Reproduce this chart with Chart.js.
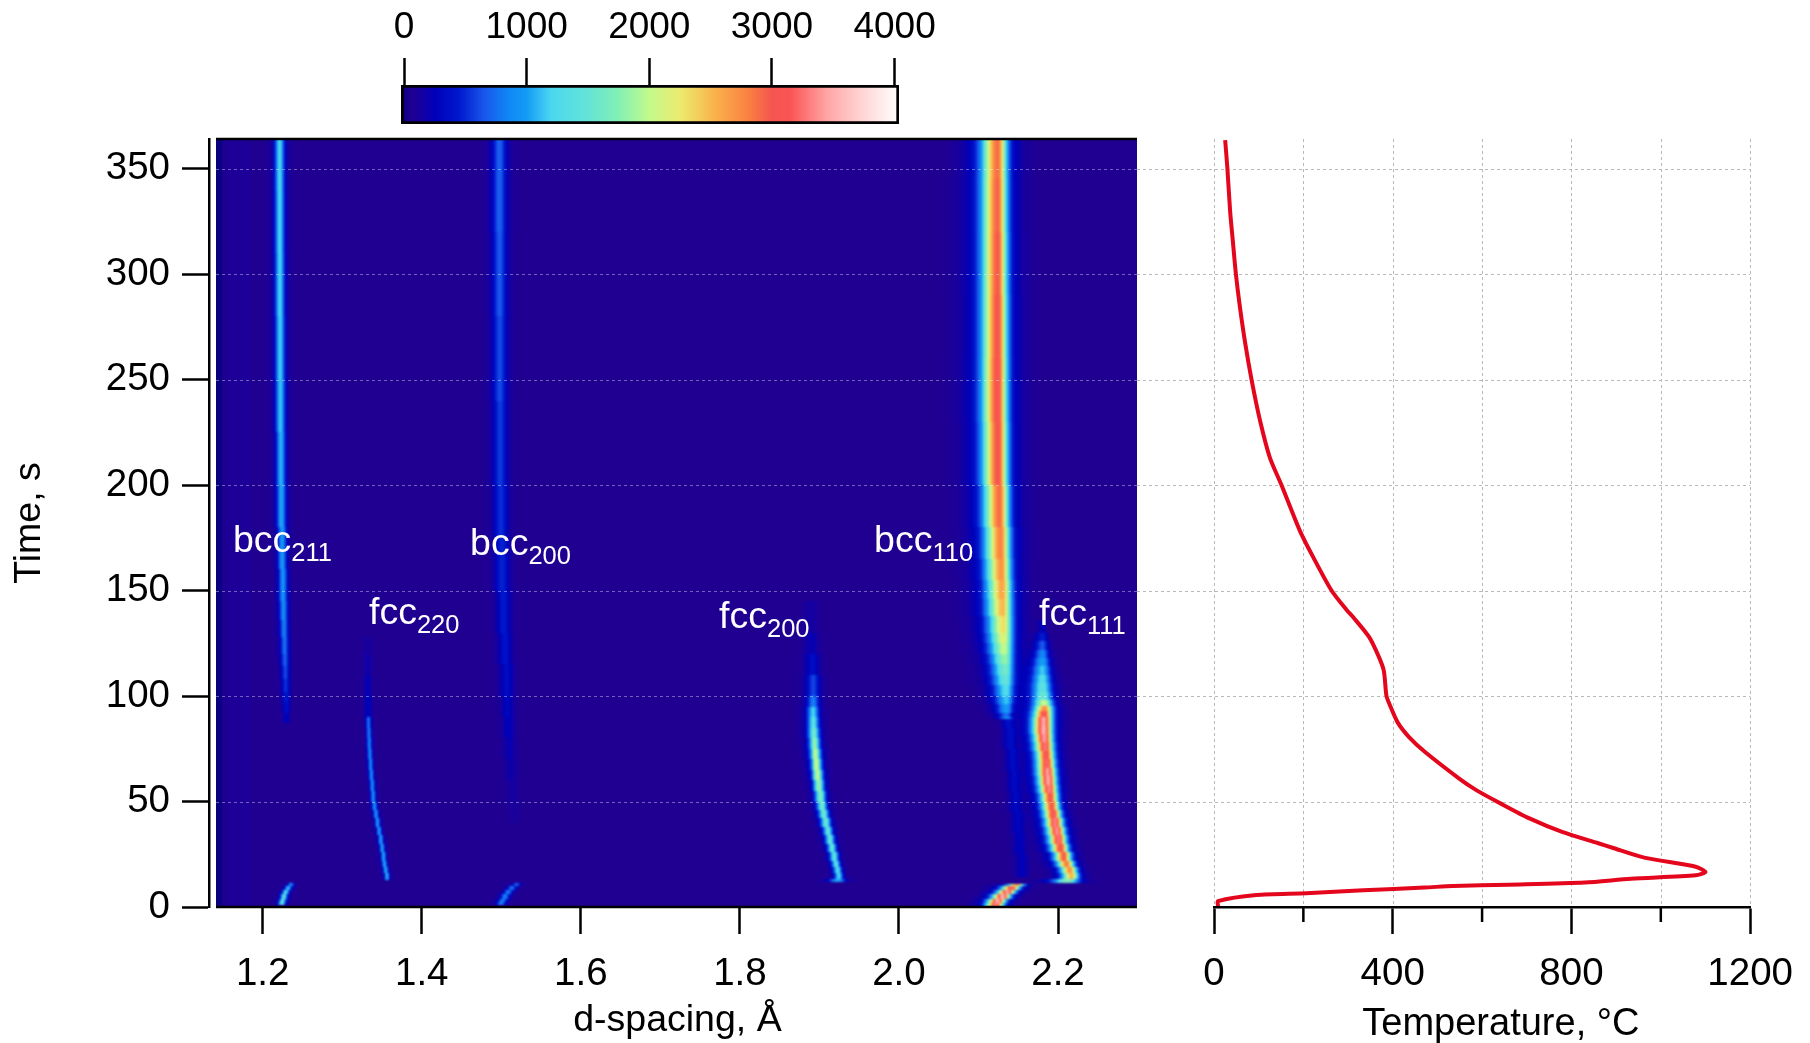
<!DOCTYPE html>
<html>
<head>
<meta charset="utf-8">
<title>d-spacing and temperature over time</title>
<script src="https://cdn.jsdelivr.net/npm/chart.js@4"></script>
<style>
    html, body { margin: 0; padding: 0; background: #fff; }
    #page { position: relative; width: 1810px; height: 1043px; overflow: hidden; }
    canvas { position: absolute; }
</style>
</head>
<body>
<div id="page">
    <canvas id="heat-chart" style="left:0;top:0" width="1137" height="1043"></canvas>
    <canvas id="temperature-chart" style="left:1137px;top:0" width="673" height="1043"></canvas>
    <canvas id="colorbar-chart" style="left:0;top:0" width="1000" height="130"></canvas>
</div>
<script>
// tick labels
const dTicks = [1.2, 1.4, 1.6, 1.8, 2.0, 2.2];
const timeTicks = [0, 50, 100, 150, 200, 250, 300, 350];
const temperatureTicks = [0, 400, 800, 1200];
const temperatureMinorTicks = [200, 600, 1000];
const temperatureGrid = [0, 200, 400, 600, 800, 1000, 1200];
const colorTicks = [0, 1000, 2000, 3000, 4000];

// colour scale
const colorValues = [-25, 60, 110, 250, 450, 650, 850, 1000, 1200, 1500, 1750, 2000, 2250, 2550, 2800, 3000, 3150, 3450, 3750, 4036];
const colorStops = [
    [5, 0, 125], [32, 0, 145], [26, 0, 155], [0, 0, 185], [0, 25, 205],
    [25, 85, 235], [15, 135, 245], [20, 155, 245], [75, 215, 240], [100, 228, 215],
    [130, 240, 180], [195, 250, 140], [235, 235, 110], [250, 175, 75], [250, 130, 65],
    [245, 85, 80], [250, 85, 85], [255, 165, 165], [255, 215, 215], [255, 255, 255],
];

// temperature curve
const curveTime = [0.5, 2.8, 5.7, 6.5, 7.9, 9.2, 10, 10.6, 11.6, 13.4, 15, 16.6, 19.1, 23.4, 28.2, 30.2, 35.6, 42, 49, 55.4, 61, 73.7, 80.4, 87.5, 96, 100, 112, 119, 128, 137, 141, 150, 165.8, 178.4, 200, 213, 230.6, 250, 267, 284.4, 300, 316, 330, 350, 363.5];
const curveTemperature = [9, 9, 95, 206, 334, 471, 535, 659, 830, 933, 1078, 1100, 1078, 963, 890, 860, 779, 706, 642, 587, 548, 471, 437, 411, 393, 386, 380, 368, 347, 313, 296, 263, 222, 192, 151, 125, 103, 84, 70, 58, 49, 42, 36, 30, 25];

// map limits
const dMin = 1.1413;
const dMax = 2.2993;
const timeMax = 364;

// background columns of the map (intensity between the edges)
const backgroundEdges = [1.1413, 1.1485, 1.155, 1.185, 2.2993];
const backgroundLevels = [-10, 55, 95, 60];

// cross section of a peak: height against distance from centre, in half widths
const profileDistance = [0, 0.25, 0.5, 0.75, 1, 1.25, 1.5, 1.75, 2, 2.25, 2.5, 3, 3.5, 4, 5];
const profileHeight = [1, 0.96, 0.84, 0.68, 0.5, 0.35, 0.24, 0.16, 0.1, 0.07, 0.05, 0.025, 0.013, 0.006, 0];

// peak tracks: row start time, centre, peak intensity, half width
const bcc211Time = [87, 92, 97, 102, 108, 114, 120, 128, 136, 145, 160, 180, 200, 225, 250, 280, 310, 340, 364];
const bcc211D = [1.2293, 1.2291, 1.2288, 1.2284, 1.228, 1.2275, 1.227, 1.2263, 1.2257, 1.225, 1.224, 1.223, 1.2224, 1.2218, 1.2214, 1.2211, 1.2209, 1.2208, 1.2208];
const bcc211Peak = [220, 320, 400, 480, 560, 640, 720, 790, 850, 900, 950, 1010, 1060, 1110, 1150, 1190, 1200, 1210, 1210];
const bcc211Width = [0.0034, 0.0036, 0.0036, 0.0038, 0.0038, 0.004, 0.004, 0.004, 0.0042, 0.0042, 0.0042, 0.0044, 0.0044, 0.0046, 0.0046, 0.0046, 0.0046, 0.0046, 0.0046];

const bcc211LowTime = [0.8, 2.5, 4, 6, 8, 10, 11.4];
const bcc211LowD = [1.2235, 1.2245, 1.2262, 1.2285, 1.2315, 1.235, 1.239];
const bcc211LowPeak = [1500, 1450, 1400, 1300, 1100, 900, 0];
const bcc211LowWidth = [0.0032, 0.0032, 0.0032, 0.0032, 0.0032, 0.003, 0.003];

const fcc220Time = [13, 16, 19, 22, 26, 30, 34, 38, 42, 46, 50, 55, 60, 65, 70, 75, 80, 85, 90, 100, 110, 120, 128];
const fcc220D = [1.3563, 1.3547, 1.3532, 1.352, 1.3503, 1.3485, 1.3465, 1.3444, 1.3425, 1.3407, 1.3391, 1.338, 1.3368, 1.3358, 1.3349, 1.3342, 1.3337, 1.3332, 1.3328, 1.3324, 1.3322, 1.332, 1.332];
const fcc220Peak = [1050, 1050, 1030, 1020, 1000, 1000, 980, 970, 950, 950, 930, 920, 900, 880, 860, 840, 800, 760, 230, 180, 130, 80, 0];
const fcc220Width = [0.0024, 0.0024, 0.0024, 0.0024, 0.0024, 0.0024, 0.0024, 0.0024, 0.0024, 0.0024, 0.0024, 0.0024, 0.0024, 0.0024, 0.0024, 0.0024, 0.0024, 0.0024, 0.0038, 0.0038, 0.0038, 0.0038, 0.0038];

const bcc200Time = [40, 50, 60, 70, 80, 90, 100, 115, 130, 150, 175, 200, 240, 280, 320, 364];
const bcc200D = [1.517, 1.5145, 1.5125, 1.5108, 1.5095, 1.5082, 1.5072, 1.505, 1.5032, 1.5012, 1.4998, 1.499, 1.4985, 1.4982, 1.498, 1.498];
const bcc200Peak = [50, 80, 120, 160, 200, 240, 290, 340, 390, 430, 470, 510, 560, 610, 650, 650];
const bcc200Width = [0.006, 0.006, 0.006, 0.006, 0.0062, 0.0062, 0.0065, 0.0065, 0.0065, 0.0068, 0.0068, 0.0068, 0.007, 0.007, 0.007, 0.007];

const bcc200LowTime = [0.8, 2.5, 4, 6, 8, 10, 11.5];
const bcc200LowD = [1.5, 1.502, 1.505, 1.509, 1.5135, 1.5195, 1.5235];
const bcc200LowPeak = [800, 800, 800, 780, 740, 660, 0];
const bcc200LowWidth = [0.0042, 0.0042, 0.0042, 0.0042, 0.004, 0.004, 0.004];

const fcc200Time = [12, 13.5, 16, 19, 22, 26, 30, 34, 38, 42, 46, 50, 55, 60, 65, 70, 75, 80, 85, 90, 95, 100, 110, 120, 130, 145];
const fcc200D = [1.9235, 1.925, 1.9235, 1.9215, 1.9193, 1.9165, 1.914, 1.9115, 1.9088, 1.9062, 1.904, 1.902, 1.9, 1.8984, 1.8968, 1.8955, 1.8943, 1.8933, 1.8927, 1.8923, 1.8925, 1.8925, 1.8915, 1.8905, 1.89, 1.8895];
const fcc200Peak = [1000, 1200, 1300, 1350, 1400, 1450, 1450, 1450, 1500, 1550, 1600, 1650, 1800, 1950, 2000, 1950, 1800, 1600, 1400, 1200, 800, 550, 300, 170, 90, 0];
const fcc200Width = [0.0075, 0.0038, 0.0038, 0.0038, 0.004, 0.004, 0.0042, 0.0042, 0.0045, 0.0045, 0.0045, 0.0048, 0.0048, 0.005, 0.005, 0.0052, 0.0052, 0.0055, 0.0055, 0.0057, 0.006, 0.0065, 0.007, 0.007, 0.007, 0.007];

const bcc110Time = [89, 92, 96, 100, 105, 110, 115, 120, 125, 130, 138, 146, 155, 165, 180, 200, 230, 260, 290, 320, 345, 364];
const bcc110D = [2.1359, 2.1359, 2.1358, 2.1355, 2.135, 2.1345, 2.1338, 2.133, 2.1325, 2.132, 2.131, 2.1305, 2.1295, 2.1285, 2.127, 2.1255, 2.125, 2.125, 2.1248, 2.1246, 2.1246, 2.1246];
const bcc110Peak = [650, 900, 1050, 1200, 1400, 1550, 1750, 1950, 2100, 2250, 2450, 2550, 2650, 2750, 2850, 3000, 3050, 3000, 2950, 2900, 2850, 2850];
const bcc110Width = [0.0052, 0.006, 0.0068, 0.0073, 0.0078, 0.008, 0.0082, 0.0085, 0.0087, 0.0088, 0.009, 0.009, 0.009, 0.0091, 0.0091, 0.0092, 0.0092, 0.0092, 0.0092, 0.0092, 0.0092, 0.0092];

const bcc110HaloTime = [90, 364];
const bcc110HaloD = [2.15, 2.15];
const bcc110HaloPeak = [50, 50];
const bcc110HaloWidth = [0.018, 0.018];

const bcc110TailTime = [14, 25, 35, 45, 55, 65, 75, 85, 90];
const bcc110TailD = [2.155, 2.152, 2.15, 2.147, 2.145, 2.143, 2.14, 2.138, 2.137];
const bcc110TailPeak = [200, 220, 240, 250, 260, 270, 280, 290, 0];
const bcc110TailWidth = [0.0065, 0.0065, 0.0065, 0.0065, 0.0065, 0.0065, 0.0065, 0.0065, 0.0065];

const bcc110LowTime = [0, 2, 4, 6, 8, 10, 11.2];
const bcc110LowD = [2.1225, 2.125, 2.131, 2.137, 2.1425, 2.149, 2.153];
const bcc110LowPeak = [3300, 3500, 3500, 3400, 3200, 2600, 0];
const bcc110LowWidth = [0.0072, 0.0072, 0.0072, 0.0072, 0.0072, 0.0072, 0.0072];

const fcc111Time = [11.5, 13.5, 16, 19, 22, 26, 30, 34, 38, 42, 46, 50, 54, 58, 62, 66, 70, 74, 78, 82, 86, 90, 93, 95.5, 98, 102, 106, 110, 114, 118, 122, 126, 130, 136];
const fcc111D = [2.212, 2.217, 2.215, 2.211, 2.2075, 2.2035, 2.201, 2.199, 2.1968, 2.1945, 2.1925, 2.1908, 2.1893, 2.1882, 2.1872, 2.1864, 2.1855, 2.1842, 2.1832, 2.1825, 2.1825, 2.183, 2.1835, 2.183, 2.1818, 2.1812, 2.181, 2.1808, 2.1808, 2.1808, 2.1808, 2.1808, 2.1808, 2.1808];
const fcc111Peak = [1700, 2500, 2700, 2800, 2950, 3100, 3250, 3350, 3300, 3150, 3000, 3050, 3300, 3450, 3400, 3200, 3100, 3250, 3400, 3500, 3450, 3100, 2700, 2000, 1500, 1350, 1250, 1100, 950, 800, 600, 400, 200, 0];
const fcc111Width = [0.011, 0.0068, 0.0068, 0.007, 0.007, 0.0072, 0.0072, 0.0072, 0.0072, 0.0072, 0.0072, 0.0072, 0.0074, 0.0074, 0.0076, 0.0076, 0.0076, 0.0078, 0.0078, 0.008, 0.008, 0.008, 0.008, 0.0082, 0.0085, 0.0085, 0.008, 0.0076, 0.007, 0.0062, 0.0055, 0.0045, 0.0035, 0.0035];

// ratio of the left half width to the right one, same order as the peak tracks
const peakTracks = [
    [bcc110HaloTime, bcc110HaloD, bcc110HaloPeak, bcc110HaloWidth, 1],
    [bcc211Time, bcc211D, bcc211Peak, bcc211Width, 1],
    [bcc211LowTime, bcc211LowD, bcc211LowPeak, bcc211LowWidth, 1],
    [fcc220Time, fcc220D, fcc220Peak, fcc220Width, 1],
    [bcc200Time, bcc200D, bcc200Peak, bcc200Width, 1],
    [bcc200LowTime, bcc200LowD, bcc200LowPeak, bcc200LowWidth, 1],
    [fcc200Time, fcc200D, fcc200Peak, fcc200Width, 1.15],
    [bcc110Time, bcc110D, bcc110Peak, bcc110Width, 1.75],
    [bcc110TailTime, bcc110TailD, bcc110TailPeak, bcc110TailWidth, 1],
    [bcc110LowTime, bcc110LowD, bcc110LowPeak, bcc110LowWidth, 1.35],
    [fcc111Time, fcc111D, fcc111Peak, fcc111Width, 1.35],
];

// peak labels
const labelNames = ['bcc', 'fcc', 'bcc', 'fcc', 'bcc', 'fcc'];
const labelIndexes = ['211', '220', '200', '200', '110', '111'];
const labelD = [1.1627, 1.3337, 1.4607, 1.7738, 1.9687, 2.1761];
const labelTime = [168.2, 134.3, 166.6, 132.4, 168.2, 133.8];

const colorScaleMin = -24.5;
const colorScaleMax = 4036;
const dStep = 0.00125;
const timeStep = 0.5;
const AXIS_WIDTH = 2.5;
const TICK_LENGTH = 27;
const FONT_FAMILY = '"Liberation Sans", Arial, sans-serif';

Chart.defaults.font.family = FONT_FAMILY;
Chart.defaults.font.size = 38.5;
Chart.defaults.color = '#000';
Chart.defaults.animation = false;

function colorForValue(value) {
    const last = colorValues.length - 1;
    if (value <= colorValues[0]) return colorStops[0];
    if (value >= colorValues[last]) return colorStops[last];
    let i = 0;
    while (value > colorValues[i + 1]) i++;
    const share = (value - colorValues[i]) / (colorValues[i + 1] - colorValues[i]);
    return colorStops[i].map((c, k) => Math.round(c + (colorStops[i + 1][k] - c) * share));
}

function cssColor(value) {
    const rounded = Math.round(value / 5) * 5;
    return 'rgb(' + colorForValue(rounded).join(',') + ')';
}

function profileAt(distance) {
    const last = profileDistance.length - 1;
    if (distance >= profileDistance[last]) return 0;
    let i = 0;
    while (distance > profileDistance[i + 1]) i++;
    const share = (distance - profileDistance[i]) / (profileDistance[i + 1] - profileDistance[i]);
    return profileHeight[i] + (profileHeight[i + 1] - profileHeight[i]) * share;
}

function backgroundAt(d) {
    for (let i = 0; i < backgroundLevels.length; i++) {
        if (d < backgroundEdges[i + 1]) return backgroundLevels[i];
    }
    return backgroundLevels[backgroundLevels.length - 1];
}

// adds the peak tracks up into map cells
function buildCells() {
    const columns = Math.ceil((dMax - dMin) / dStep);
    const rows = Math.ceil(timeMax / timeStep);
    const grid = new Float32Array(columns * rows);

    for (const [times, centres, peaks, widths, leftRatio] of peakTracks) {
        for (let i = 0; i < times.length - 1; i++) {
            const firstRow = Math.round(times[i] / timeStep);
            const lastRow = Math.min(rows, Math.round(times[i + 1] / timeStep));
            const reach = widths[i] * leftRatio * 5;
            const firstColumn = Math.max(0, Math.floor((centres[i] - reach - dMin) / dStep));
            const lastColumn = Math.min(columns, Math.ceil((centres[i] + reach - dMin) / dStep));
            for (let c = firstColumn; c < lastColumn; c++) {
                const offset = dMin + (c + 0.5) * dStep - centres[i];
                const halfWidth = offset < 0 ? widths[i] * leftRatio : widths[i];
                const value = peaks[i] * profileAt(Math.abs(offset) / halfWidth);
                for (let r = firstRow; r < lastRow; r++) {
                    grid[r * columns + c] += value;
                }
            }
        }
    }

    const cells = [];
    for (let i = 0; i < backgroundLevels.length; i++) {
        cells.push({
            x: backgroundEdges[i],
            x2: backgroundEdges[i + 1],
            y: 0,
            y2: timeMax,
            v: backgroundLevels[i],
        });
    }
    for (let r = 0; r < rows; r++) {
        for (let c = 0; c < columns; c++) {
            const added = grid[r * columns + c];
            if (added > 6) {
                const d = dMin + c * dStep;
                cells.push({
                    x: d,
                    x2: d + dStep,
                    y: r * timeStep,
                    y2: (r + 1) * timeStep,
                    v: backgroundAt(d) + added,
                });
            }
        }
    }
    return cells;
}

// the plugin paints the cells of the dataset through the chart's scales
const heatmapPlugin = {
    id: 'heatmap',
    beforeDatasetsDraw(chart) {
        const { ctx, scales } = chart;
        const left = scales.x.getPixelForValue(dMin);
        const right = scales.x.getPixelForValue(dMax);
        const top = scales.y.getPixelForValue(timeMax);
        const bottom = scales.y.getPixelForValue(0);

        const layer = document.createElement('canvas');
        layer.width = chart.width;
        layer.height = chart.height;
        const layerCtx = layer.getContext('2d');
        for (const cell of chart.data.datasets[0].data) {
            const x0 = Math.round(scales.x.getPixelForValue(cell.x));
            const x1 = Math.round(scales.x.getPixelForValue(cell.x2));
            const y0 = Math.round(scales.y.getPixelForValue(cell.y2));
            const y1 = Math.round(scales.y.getPixelForValue(cell.y));
            layerCtx.fillStyle = cssColor(cell.v);
            layerCtx.fillRect(x0, y0, Math.max(1, x1 - x0), Math.max(1, y1 - y0));
        }

        ctx.save();
        ctx.beginPath();
        ctx.rect(left, top, right - left, bottom - top);
        ctx.clip();
        ctx.drawImage(layer, 0, 0);
        ctx.filter = 'blur(1px)';
        ctx.drawImage(layer, 0, 0);
        ctx.restore();
    },
    afterDatasetsDraw(chart) {
        const { ctx, scales } = chart;
        const left = scales.x.getPixelForValue(dMin);
        const right = scales.x.getPixelForValue(dMax);
        const top = scales.y.getPixelForValue(timeMax);
        const bottom = scales.y.getPixelForValue(0);

        ctx.save();
        ctx.strokeStyle = 'rgba(255,255,255,0.38)';
        ctx.lineWidth = 1;
        ctx.setLineDash([3, 3]);
        for (const t of timeTicks) {
            if (t === 0) continue;
            const y = Math.round(scales.y.getPixelForValue(t)) + 0.5;
            ctx.beginPath();
            ctx.moveTo(left, y);
            ctx.lineTo(right, y);
            ctx.stroke();
        }
        ctx.setLineDash([]);
        ctx.strokeStyle = '#000';
        ctx.lineWidth = AXIS_WIDTH;
        ctx.beginPath();
        ctx.moveTo(left, top);
        ctx.lineTo(right, top);
        ctx.moveTo(left, bottom);
        ctx.lineTo(right, bottom);
        ctx.stroke();

        ctx.fillStyle = '#fff';
        ctx.textBaseline = 'alphabetic';
        ctx.textAlign = 'left';
        labelNames.forEach((name, i) => {
            const x = scales.x.getPixelForValue(labelD[i]);
            const y = scales.y.getPixelForValue(labelTime[i]);
            ctx.font = '37.5px ' + FONT_FAMILY;
            ctx.fillText(name, x, y);
            const nameWidth = ctx.measureText(name).width;
            ctx.font = '25.5px ' + FONT_FAMILY;
            ctx.fillText(labelIndexes[i], x + nameWidth, y + 9);
        });

        ctx.fillStyle = '#000';
        ctx.font = '37.5px ' + FONT_FAMILY;
        ctx.textAlign = 'center';
        ctx.textBaseline = 'middle';
        ctx.fillText('d-spacing, Å', scales.x.getPixelForValue(1.7215), 1021);
        ctx.restore();
    },
};

const temperatureGridPlugin = {
    id: 'temperatureGrid',
    beforeDatasetsDraw(chart) {
        const { ctx, scales } = chart;
        const top = scales.y.getPixelForValue(timeMax);
        const bottom = scales.y.getPixelForValue(0);
        const right = scales.x.getPixelForValue(1200);

        ctx.save();
        ctx.strokeStyle = '#b9b9b9';
        ctx.lineWidth = 1;
        ctx.setLineDash([3, 3]);
        for (const t of temperatureGrid) {
            const x = Math.round(scales.x.getPixelForValue(t)) + 0.5;
            ctx.beginPath();
            ctx.moveTo(x, top);
            ctx.lineTo(x, bottom);
            ctx.stroke();
        }
        for (const t of timeTicks) {
            if (t === 0) continue;
            const y = Math.round(scales.y.getPixelForValue(t)) + 0.5;
            ctx.beginPath();
            ctx.moveTo(0, y);
            ctx.lineTo(right, y);
            ctx.stroke();
        }
        ctx.setLineDash([]);
        ctx.strokeStyle = '#000';
        ctx.lineWidth = AXIS_WIDTH;
        ctx.beginPath();
        for (const t of temperatureMinorTicks) {
            const x = scales.x.getPixelForValue(t);
            ctx.moveTo(x, bottom);
            ctx.lineTo(x, bottom + 15);
        }
        ctx.stroke();

        ctx.fillStyle = '#000';
        ctx.font = '38px ' + FONT_FAMILY;
        ctx.textAlign = 'center';
        ctx.textBaseline = 'middle';
        ctx.fillText('Temperature, °C', scales.x.getPixelForValue(642), 1025);
        ctx.restore();
    },
};

new Chart(document.getElementById('heat-chart'), {
    type: 'scatter',
    data: {
        datasets: [{ label: 'Intensity', data: buildCells(), pointRadius: 0, parsing: false, normalized: true }],
    },
    options: {
        responsive: false,
        events: [],
        layout: { padding: { top: 139, left: 0, right: 0, bottom: 0 } },
        plugins: { legend: { display: false }, tooltip: { enabled: false } },
        scales: {
            x: {
                type: 'linear',
                min: 1.1325,
                max: dMax,
                afterBuildTicks: (scale) => { scale.ticks = dTicks.map((value) => ({ value })); },
                afterFit: (scale) => { scale.height = 136; },
                ticks: { padding: 17, maxRotation: 0, autoSkip: false, callback: (value) => value.toFixed(1) },
                grid: { drawOnChartArea: false, tickLength: TICK_LENGTH, tickWidth: AXIS_WIDTH, tickColor: '#000' },
                border: { display: false },
            },
            y: {
                type: 'linear',
                min: 0,
                max: timeMax,
                afterBuildTicks: (scale) => { scale.ticks = timeTicks.map((value) => ({ value })); },
                afterFit: (scale) => { scale.width = 209; },
                ticks: { padding: 12, autoSkip: false },
                grid: { drawOnChartArea: false, tickLength: TICK_LENGTH, tickWidth: AXIS_WIDTH, tickColor: '#000' },
                border: { display: true, color: '#000', width: AXIS_WIDTH },
                title: { display: true, text: 'Time, s', font: { size: 37.5 }, color: '#000', padding: { top: 7, bottom: 0 } },
            },
        },
    },
    plugins: [heatmapPlugin],
});

new Chart(document.getElementById('temperature-chart'), {
    type: 'line',
    data: {
        datasets: [{
            label: 'Temperature',
            data: curveTime.map((time, i) => ({ x: curveTemperature[i], y: time })),
            borderColor: '#e3061c',
            borderWidth: 4,
            pointRadius: 0,
            tension: 0.25,
        }],
    },
    options: {
        responsive: false,
        events: [],
        layout: { padding: { top: 139, left: 77, right: 58, bottom: 0 } },
        plugins: { legend: { display: false }, tooltip: { enabled: false } },
        scales: {
            x: {
                type: 'linear',
                min: 0,
                max: 1200,
                afterBuildTicks: (scale) => { scale.ticks = temperatureTicks.map((value) => ({ value })); },
                afterFit: (scale) => { scale.height = 136; },
                ticks: { padding: 17, maxRotation: 0, autoSkip: false, callback: (value) => String(value) },
                grid: { drawOnChartArea: false, tickLength: TICK_LENGTH, tickWidth: AXIS_WIDTH, tickColor: '#000' },
                border: { display: true, color: '#000', width: AXIS_WIDTH },
            },
            y: { type: 'linear', display: false, min: 0, max: timeMax },
        },
    },
    plugins: [temperatureGridPlugin],
});

new Chart(document.getElementById('colorbar-chart'), {
    type: 'bar',
    data: {
        labels: ['Intensity'],
        datasets: [{
            data: [[colorScaleMin, colorScaleMax]],
            backgroundColor: (context) => {
                const { chart } = context;
                if (!chart.chartArea) return '#000';
                const scale = chart.scales.x;
                const gradient = chart.ctx.createLinearGradient(scale.left, 0, scale.right, 0);
                colorValues.forEach((value, i) => {
                    const share = Math.min(1, Math.max(0, (value - colorScaleMin) / (colorScaleMax - colorScaleMin)));
                    gradient.addColorStop(share, 'rgb(' + colorStops[i].join(',') + ')');
                });
                return gradient;
            },
            borderColor: '#000',
            borderWidth: 3,
            borderSkipped: false,
            barPercentage: 1,
            categoryPercentage: 1,
        }],
    },
    options: {
        indexAxis: 'y',
        responsive: false,
        events: [],
        layout: { padding: { top: 0, left: 401, right: 101, bottom: 6 } },
        plugins: { legend: { display: false }, tooltip: { enabled: false } },
        scales: {
            x: {
                type: 'linear',
                position: 'top',
                min: colorScaleMin,
                max: colorScaleMax,
                afterBuildTicks: (scale) => { scale.ticks = colorTicks.map((value) => ({ value })); },
                afterFit: (scale) => { scale.height = 85; },
                ticks: { padding: 8, maxRotation: 0, autoSkip: false, font: { size: 37 }, callback: (value) => String(value) },
                grid: { drawOnChartArea: false, tickLength: TICK_LENGTH, tickWidth: AXIS_WIDTH, tickColor: '#000' },
                border: { display: false },
            },
            y: { display: false },
        },
    },
});
</script>
</body>
</html>
